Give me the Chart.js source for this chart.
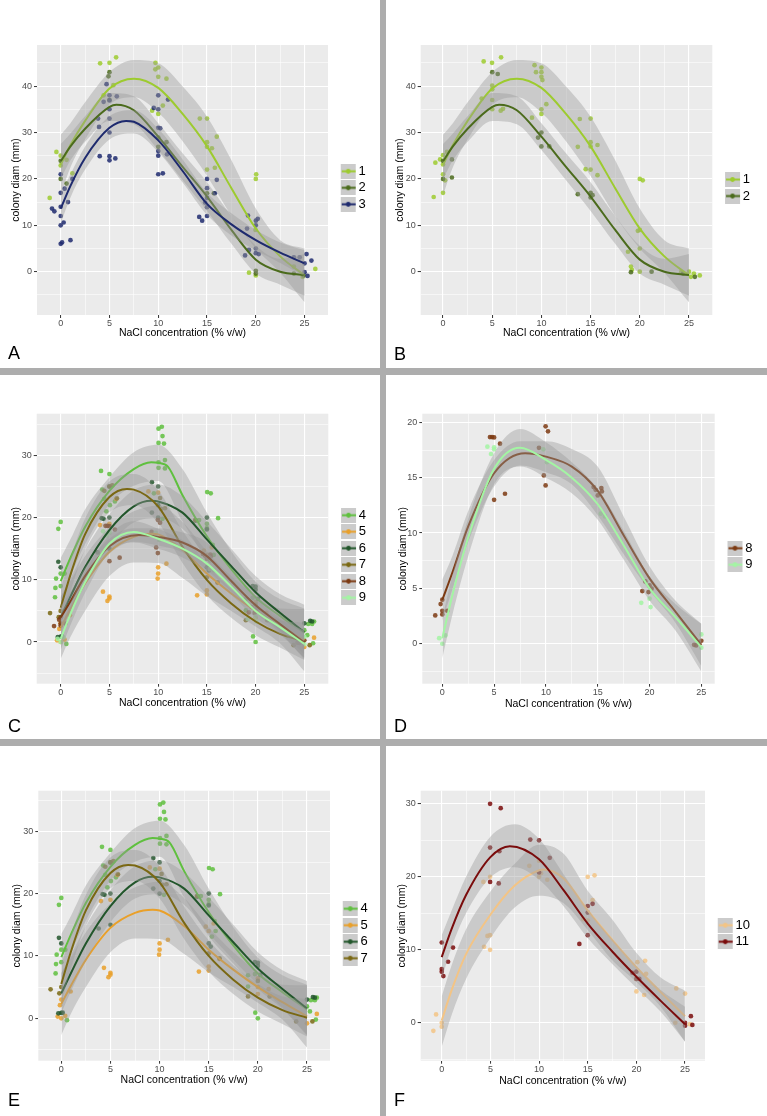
<!DOCTYPE html>
<html><head><meta charset="utf-8">
<script src="https://cdn.jsdelivr.net/npm/chart.js@4.4.1/dist/chart.umd.min.js"></script>
<style>
html,body{margin:0;padding:0;background:#fff;}
body{width:767px;height:1116px;position:relative;overflow:hidden;}
.bar{position:absolute;background:#ADADAD;}
.panel{position:absolute;}
canvas{display:block;}
</style></head><body>
<div class="panel" style="left:0;top:0"><canvas id="cA"></canvas></div>
<div class="panel" style="left:386px;top:0"><canvas id="cB"></canvas></div>
<div class="panel" style="left:0;top:375px"><canvas id="cC"></canvas></div>
<div class="panel" style="left:386px;top:375px"><canvas id="cD"></canvas></div>
<div class="panel" style="left:0;top:746px"><canvas id="cE"></canvas></div>
<div class="panel" style="left:386px;top:746px"><canvas id="cF"></canvas></div>
<div class="bar" style="left:380px;top:0;width:6px;height:1116px"></div>
<div class="bar" style="left:0;top:368px;width:767px;height:7px"></div>
<div class="bar" style="left:0;top:739px;width:767px;height:7px"></div>
<script>
// ---------- tick labels ----------
const xMajor = [0, 5, 10, 15, 20, 25];
const xMinor = [2.5, 7.5, 12.5, 17.5, 22.5];
const yMajorAB = [0, 10, 20, 30, 40];
const yMinorAB = [-5, 5, 15, 25, 35, 45];
const yMajorCEF = [0, 10, 20, 30];
const yMinorCEF = [-5, 5, 15, 25, 35];
const yMajorD = [0, 5, 10, 15, 20];
const yMinorD = [-2.5, 2.5, 7.5, 12.5, 17.5];

// ---------- observations (x, colony diam) ----------
const ptsA1 = [[-1.13,15.9],[-0.44,25.8],[0,25.0],[0,22.9],[0.6,24.1],[1.2,21.2],[4.04,44.9],[5.0,45.0],[5.68,46.2],[5.4,40.2],[4.4,38.0],[9.71,45.0],[10.0,44.0],[9.7,43.6],[10.0,42.0],[10.84,41.6],[9.37,34.7],[10.0,34.0],[10.47,35.8],[14.26,33.0],[15.0,33.0],[16.0,29.1],[15.5,26.6],[15.0,27.9],[15.0,26.9],[15.0,22.0],[15.8,22.4],[20.04,21.0],[20.0,20.0],[19.97,9.0],[19.3,-0.2],[20.0,-0.8],[26.1,0.6],[23.9,1.1],[24.8,-1.1]];
const ptsA2 = [[0,23.9],[0,20.0],[0.6,19.0],[5.0,43.0],[4.9,42.1],[5.0,37.0],[10.0,26.9],[10.0,28.9],[10.84,27.9],[15.0,16.9],[15.7,16.9],[20.0,0.2],[20.0,-0.4],[23.9,-0.4],[24.9,-0.8]];
const ptsA3 = [[-0.89,13.6],[-0.65,13.0],[0,21.0],[0,17.0],[0,14.0],[0,12.0],[0,10.0],[0,6.0],[0.14,6.3],[0.3,10.6],[0.4,17.9],[0.75,15.0],[1.0,6.8],[1.2,20.0],[3.83,33.0],[3.93,31.2],[4.0,24.9],[4.4,36.6],[4.7,40.4],[5.0,24.9],[5.0,24.0],[5.0,38.0],[5.0,36.9],[5.0,35.0],[5.0,33.0],[5.0,30.0],[5.6,24.4],[5.75,37.8],[9.54,35.3],[10.0,38.0],[10.0,35.0],[10.0,31.0],[10.0,26.0],[10.0,25.0],[10.0,21.0],[10.47,21.2],[10.2,30.9],[11.0,37.1],[10.9,25.3],[14.2,11.8],[14.5,11.0],[15.0,20.0],[15.0,18.0],[15.0,15.9],[15.0,13.9],[15.0,12.0],[14.8,14.9],[16.0,19.8],[15.8,16.9],[18.9,3.5],[19.1,9.3],[19.3,4.7],[19.2,12.1],[20.0,11.0],[20.2,11.4],[20.0,10.0],[20.0,5.0],[20.0,4.0],[20.3,3.8],[23.9,3.1],[25.2,3.8],[25.0,1.8],[25.0,-0.1],[25.3,-0.9],[25.7,2.4],[24.5,3.1]];
const ptsB1 = [[-0.95,16.1],[-0.78,23.5],[-0.3,24.2],[0,25.1],[0,23.1],[0,21.0],[0,17.0],[0.2,19.7],[0.4,25.8],[3.93,37.3],[4.13,45.3],[4.98,45.0],[5.0,40.1],[5.0,39.3],[5.0,37.0],[5.0,35.0],[5.9,46.2],[5.86,34.7],[6.1,35.1],[9.04,33.2],[9.3,44.5],[9.45,43.0],[10.0,44.0],[10.0,43.0],[10.0,42.0],[10.1,41.3],[10.0,35.0],[10.0,34.0],[10.5,36.1],[13.9,32.9],[13.7,26.9],[14.5,22.1],[15.0,33.0],[15.0,27.9],[15.0,27.0],[15.0,22.0],[15.7,27.3],[15.7,20.8],[18.8,4.3],[19.1,1.1],[19.2,0.4],[19.8,8.8],[20.0,9.0],[20.0,5.0],[20.0,0],[20.0,20.0],[20.3,19.7],[24.2,-0.1],[25.0,0],[25.2,-1.1],[25.5,-0.4],[26.1,-0.8]];
const ptsB2 = [[0,20.0],[0,23.9],[0.9,20.3],[0.9,24.2],[5.0,43.0],[5.56,42.6],[10.0,30.0],[10.0,27.0],[9.66,28.9],[10.8,27.0],[13.7,16.7],[15.0,17.0],[15.0,16.0],[15.2,16.5],[19.1,-0.1],[21.2,0],[25.6,-1.1],[24.4,-0.4]];
const ptsE4 = [[-0.47,10.2],[-0.54,8.7],[-0.58,7.2],[-0.24,18.2],[0,19.3],[0,11.0],[0,9.0],[0.41,11.0],[0.58,-0.3],[4.14,27.5],[5.0,27.0],[5.05,22.0],[4.68,21.0],[4.48,23.0],[4.27,24.5],[5.56,22.6],[10.04,34.3],[10.38,34.6],[10.45,33.1],[10.04,32.0],[10.6,31.9],[10.04,28.9],[10.04,28.0],[10.7,29.25],[10.7,27.9],[9.57,23.9],[10.45,19.8],[15.03,24.1],[15.4,23.9],[15.0,19.0],[15.0,18.3],[15.33,13.1],[15.6,15.6],[15.7,14.0],[16.15,19.9],[14.2,19.6],[19.0,5.1],[19.0,6.9],[19.74,0.9],[20.0,0],[19.7,7.1],[25.0,1.9],[25.3,1.1],[25.4,2.9],[25.8,2.9],[26.0,3.3],[25.9,-0.2]];
const ptsE5 = [[-0.37,0.27],[-0.14,2.1],[0,3.0],[0,0],[0.4,0.4],[0.95,4.3],[4.04,18.8],[4.34,8.1],[4.8,6.6],[5.0,7.0],[5.0,7.3],[5.0,19.0],[5.7,23.0],[9.0,24.2],[10.0,12.0],[10.0,11.0],[9.95,10.2],[10.0,24.0],[10.85,12.6],[14.0,7.5],[14.7,14.7],[15.0,8.3],[15.0,7.65],[15.0,14.0],[15.5,15.2],[16.1,9.5],[20.0,6.4],[20.0,3.9],[20.0,5.0],[21.1,4.7],[25.0,-0.8],[26.0,0.7]];
const ptsE6 = [[-0.24,12.9],[0,12.0],[0,0.86],[-0.3,0.8],[0.14,0.9],[3.8,14.4],[4.2,19.9],[4.4,19.8],[5.0,20.0],[5.0,15.0],[5.0,25.0],[9.36,25.7],[9.36,20.8],[10.0,25.0],[10.0,20.0],[10.0,22.0],[15.0,20.0],[15.0,12.0],[15.2,11.5],[13.85,19.5],[15.0,18.1],[19.7,9.0],[20.0,8.9],[20.0,8.4],[20.25,6.95],[25.0,3.0],[25.6,3.4],[25.8,3.3]];
const ptsE7 = [[-1.09,4.65],[-0.2,4.0],[0,5.0],[4.48,24.3],[5.0,25.0],[5.3,25.2],[5.77,23.1],[10.2,23.15],[10.3,21.4],[10.7,21.5],[13.8,19.6],[15.0,10.4],[16.1,9.6],[19.0,3.5],[20.0,6.0],[21.2,3.5],[23.9,-0.5],[25.55,-0.5]];
const ptsD8 = [[-0.68,2.56],[-0.16,3.58],[0,3.98],[0,2.98],[0,2.65],[0.48,2.98],[4.6,18.67],[4.8,18.67],[5.0,18.64],[5.57,18.07],[5.0,13.0],[6.05,13.55],[9.33,17.7],[9.8,15.2],[9.97,14.3],[9.97,19.64],[10.2,19.19],[14.6,14.15],[15.0,13.4],[15.35,14.07],[15.4,13.76],[14.8,13.9],[19.3,4.76],[19.6,5.63],[19.9,4.67],[20.0,5.27],[20.2,4.97],[24.3,-0.1],[24.5,-0.15],[25.0,0.27]];
const ptsD9 = [[-0.3,0.5],[0,0],[0.3,0.75],[4.35,17.8],[4.7,17.14],[5.0,17.74],[5.0,17.56],[9.75,17.56],[10.1,16.4],[15.3,11.75],[15.7,11.5],[19.2,3.7],[20.0,4.07],[20.1,3.31],[25.0,0.84],[25.0,-0.36]];
const ptsF10 = [[-0.86,-1.1],[-0.58,1.14],[0,0],[0,-0.55],[4.28,19.3],[4.35,10.4],[4.7,11.9],[4.97,12.0],[4.97,10.0],[4.97,20.0],[9.0,21.5],[10.0,20.0],[10.0,22.2],[10.2,20.5],[10.85,19.6],[15.0,20.0],[15.7,20.2],[14.55,14.2],[15.0,14.0],[15.5,16.8],[20.0,6.0],[20.0,4.3],[20.8,3.8],[20.9,8.5],[21.0,6.7],[20.1,8.3],[24.0,0],[24.1,4.7],[25.0,4.0],[25.5,-0.2]];
const ptsF11 = [[0,11.0],[0,7.35],[0,7.0],[0.17,6.4],[0.65,8.36],[1.16,10.3],[4.97,30.0],[4.97,24.0],[4.97,19.3],[6.06,29.4],[5.92,23.5],[5.86,19.1],[9.1,25.1],[10.0,25.0],[10.0,20.6],[11.1,22.6],[14.14,10.8],[15.0,16.0],[15.0,15.1],[15.0,12.0],[15.5,16.3],[19.6,6.85],[20.0,7.0],[20.0,6.0],[20.3,6.0],[25.0,0],[25.0,-0.4],[25.6,0.9],[25.75,-0.3]];

// ---------- smoothed fits ----------
const fitX1 = [0,1,2.5,5,7.5,10,12.5,15,17.5,20,22.5,25];
const fitY1 = [23.0,27.3,32.5,39.5,41.6,39.6,34.0,27.0,18.0,9.3,3.3,-0.8];
const fitX2 = [0,1,2.5,5,5.7,7.5,10,12.5,15,17.5,20,22.5,25];
const fitY2 = [23.8,27.0,30.8,35.5,36.0,34.8,29.1,22.6,16.2,9.0,2.6,0.0,-0.7];
const fitX3 = [0,1,2.5,5,6.7,7.5,10,12.5,15,17.5,20,22.5,25];
const fitY3 = [13.6,18.5,24.5,31.0,32.5,32.3,28.3,21.7,14.6,10.2,6.8,4.1,1.8];
const fitX4 = [0,1,2.5,5,7.5,9.3,10,11,12.5,15,17.5,20,22.5,25];
const fitY4 = [9.8,13.5,18.5,24.3,27.8,28.9,28.8,28.2,23.6,17.0,11.7,7.2,4.2,1.4];
const fitX5 = [0,1,2.5,5,7.5,9.3,10,12.5,15,17.5,20,22.5,25];
const fitY5 = [2.3,5.3,9.4,14.5,16.9,17.4,17.3,14.8,11.0,7.8,5.0,2.6,0.3];
const fitX6 = [0,1,2.5,5,7.5,9.3,10,12.5,15,17.5,20,22.5,25];
const fitY6 = [4.0,7.3,12.0,18.0,21.8,22.7,22.6,20.8,16.5,12.2,8.0,4.7,1.6];
const fitX7 = [0,1,2.5,5,6.8,7.5,10,12.5,15,17.5,20,22.5,25];
const fitY7 = [5.5,10.8,17.3,23.3,24.6,24.5,21.8,15.3,10.0,6.2,3.3,1.3,0.1];
const fitX8 = [0,1,2.5,5,8,10,12.5,15,17.5,20,22.5,25];
const fitY8 = [3.95,6.5,10.6,15.4,17.2,16.9,16.0,13.8,9.8,5.9,2.9,-0.1];
const fitX9 = [0,1,2.5,5,7.5,10,12.5,15,17.5,20,22.5,25];
const fitY9 = [0.5,4.5,9.6,15.8,17.7,16.6,15.0,12.6,8.9,5.0,2.4,-0.3];
const fitX10 = [0,1,2.5,5,7.5,10,10.5,12.5,15,17.5,20,22.5,25];
const fitY10 = [0.3,4.4,9.4,14.8,18.8,20.9,21.0,19.8,15.4,11.4,7.6,4.2,0.9];
const fitX11 = [0,1,2.5,5,7,10,12.5,15,17.5,20,22.5,25];
const fitY11 = [9.0,12.8,17.5,22.7,24.2,22.4,18.2,13.6,9.8,6.3,3.0,-0.2];

// ---------- confidence bands (upper / lower) ----------
const bandX = [0,1,2.5,5,7.5,10,12.5,15,17.5,20,22.5,25];
const up1 = [29.5,32.0,36.5,43.0,45.6,44.9,39.9,33.4,24.0,13.6,6.8,5.0];
const lo1 = [16.5,22.5,28.5,36.0,37.6,34.3,28.1,20.6,12.0,5.0,-0.2,-6.6];
const up2 = [27.5,29.8,33.5,38.5,37.8,32.0,25.5,19.3,12.0,5.6,2.8,3.8];
const lo2 = [20.0,24.0,28.0,32.5,31.8,26.2,19.7,13.1,6.0,-0.4,-2.8,-5.2];
const up3 = [16.8,21.0,27.0,33.5,34.8,30.8,24.2,17.0,12.6,9.0,6.3,4.6];
const lo3 = [10.4,16.0,22.0,28.5,29.8,25.8,19.2,12.2,7.8,4.6,1.9,-1.0];
const up4 = [13.5,16.5,21.3,26.5,30.5,31.7,27.8,20.8,14.6,9.7,6.9,5.4];
const lo4 = [6.1,10.5,15.7,22.1,25.1,25.9,19.4,13.2,8.8,4.7,1.5,-2.6];
const up5 = [7.3,9.8,13.8,18.4,21.0,21.9,19.3,14.6,10.6,7.5,5.4,5.3];
const lo5 = [-2.7,0.8,5.0,10.6,12.8,12.7,10.3,7.4,5.0,2.5,-0.2,-4.7];
const up6 = [7.2,10.2,14.8,20.6,24.4,25.3,23.4,19.4,15.0,10.6,7.7,6.0];
const lo6 = [0.8,4.4,9.2,15.4,19.2,19.9,18.2,13.6,9.4,5.4,1.7,-2.8];
const up7 = [8.6,13.5,19.8,25.8,27.0,24.4,17.9,12.5,8.5,5.5,3.5,3.1];
const lo7 = [2.4,8.1,14.8,20.8,22.0,19.2,12.7,7.5,3.9,1.1,-0.9,-2.9];
const up8 = [5.8,8.0,12.0,16.6,18.3,18.3,17.6,16.0,11.5,7.0,3.9,1.8];
const lo8 = [2.1,5.0,9.2,14.2,16.1,15.5,14.4,11.6,8.1,4.8,1.9,-2.0];
const up9 = [2.3,6.3,11.3,17.2,19.4,18.2,16.4,14.0,10.2,6.1,3.6,1.8];
const lo9 = [-1.3,2.7,7.9,14.4,16.0,15.0,13.6,11.2,7.6,3.9,1.2,-2.5];
const up10 = [3.6,7.8,12.8,18.0,21.8,24.4,23.2,18.1,14.2,9.6,6.2,4.4];
const lo10 = [-3.3,1.0,6.0,11.6,15.8,17.4,16.4,12.7,8.6,5.6,2.2,-2.6];
const up11 = [12.0,15.3,20.0,25.5,27.2,25.2,20.4,15.6,11.5,7.8,4.5,2.2];
const lo11 = [6.0,10.3,15.0,19.9,21.3,19.6,16.0,11.6,8.1,4.8,1.5,-2.6];

// ---------- styling ----------
const FONT = '"Liberation Sans", Arial, Helvetica, sans-serif';
const BAND = 'rgba(153,153,153,0.4)';
const col = {1:'#9DCB2F',2:'#4B6B1C',3:'#1E2A6E',4:'#5FC03E',5:'#E9A02A',6:'#22562B',7:'#7A6813',8:'#7C3A12',9:'#A3F5A3',10:'#F3C485',11:'#7A0C0C'};
Chart.defaults.font.family = FONT;

function rgba(hex, a) {
  const n = parseInt(hex.slice(1), 16);
  return `rgba(${(n>>16)&255},${(n>>8)&255},${n&255},${a})`;
}
function keyImage(color) {
  const c = document.createElement('canvas');
  c.width = 40; c.height = 15;
  const g = c.getContext('2d');
  g.fillStyle = '#CBCBCB';
  g.fillRect(19, 0, 15, 15);
  g.strokeStyle = color; g.lineWidth = 2;
  g.beginPath(); g.moveTo(20, 7.5); g.lineTo(34, 7.5); g.stroke();
  g.fillStyle = color;
  g.beginPath(); g.arc(26.5, 7.5, 2.4, 0, Math.PI * 2); g.fill();
  return c;
}
const measureCtx = document.createElement('canvas').getContext('2d');

const bgPlugin = {
  id: 'panelBg',
  beforeDraw(chart) {
    const a = chart.chartArea, ctx = chart.ctx;
    ctx.save();
    ctx.fillStyle = '#EBEBEB';
    ctx.fillRect(a.left, a.top, a.right - a.left, a.bottom - a.top);
    ctx.restore();
  }
};

function S(name, pts, fx, fy, up, lo) {
  return {name, color: col[name], pts, fx, fy, up, lo};
}

function makePanel(id, g, list) {
  const canvas = document.getElementById(id);
  canvas.width = g.W; canvas.height = g.H;
  canvas.style.width = g.W + 'px'; canvas.style.height = g.H + 'px';
  const n = list.length;
  const datasets = [];
  list.forEach((s, k) => datasets.push({
    type: 'scatter', label: s.name + ' obs',
    data: s.pts.map(p => ({x: p[0], y: p[1]})),
    pointRadius: 2.35, pointHoverRadius: 2.35, pointBorderWidth: 0,
    pointBackgroundColor: rgba(s.color, 0.85), backgroundColor: rgba(s.color, 0.85),
    showLine: false, order: 200 - k
  }));
  list.forEach((s, k) => {
    const base = 90 - 3 * k;
    datasets.push({type: 'line', label: s.name + ' upper', data: bandX.map((x, i) => ({x, y: s.up[i]})),
      borderWidth: 0, borderColor: 'rgba(0,0,0,0)', pointRadius: 0, fill: false,
      cubicInterpolationMode: 'monotone', order: base});
    datasets.push({type: 'line', label: s.name + ' lower', data: bandX.map((x, i) => ({x, y: s.lo[i]})),
      borderWidth: 0, borderColor: 'rgba(0,0,0,0)', pointRadius: 0, fill: '-1', backgroundColor: BAND,
      cubicInterpolationMode: 'monotone', order: base - 1});
    datasets.push({type: 'line', label: s.name, data: s.fx.map((x, i) => ({x, y: s.fy[i]})),
      borderColor: s.color, borderWidth: 2, pointRadius: 0, fill: false,
      cubicInterpolationMode: 'monotone', order: base - 2});
  });

  // geometry
  const padL = 8;
  const xh = g.xTitleY + 6.3 - g.B;
  const letterLH = 18 * 1.2;
  const tp = g.letterY - g.B - xh - letterLH / 2;
  const pb = g.H - (g.B + xh + tp + letterLH);
  measureCtx.font = '13px ' + FONT;
  const tw = Math.max(...list.map(s => measureCtx.measureText(s.name).width));
  const Lw = 3.5 + 20.5 + 6.5 + tw + 10;
  const pr = g.W - g.R - Lw;
  const yTitlePad = Math.max(0, g.yTitleX - padL - 6.3);

  const xTicks = xMajor.concat(xMinor).filter(v => v >= g.xmin && v <= g.xmax).sort((a, b) => a - b);
  const yTicks = g.yMajor.concat(g.yMinor).filter(v => v >= g.ymin && v <= g.ymax).sort((a, b) => a - b);
  const isMajX = v => xMajor.includes(v);
  const isMajY = v => g.yMajor.includes(v);

  new Chart(canvas, {
    type: 'scatter',
    data: {datasets},
    plugins: [bgPlugin],
    options: {
      responsive: false, animation: false, events: [],
      layout: {padding: {left: padL, top: g.T, right: pr, bottom: pb}},
      scales: {
        x: {
          type: 'linear', min: g.xmin, max: g.xmax,
          afterFit: s => { s.height = xh; },
          afterBuildTicks: s => { s.ticks = xTicks.map(v => ({value: v})); },
          ticks: {autoSkip: false, maxRotation: 0, minRotation: 0, padding: 0, color: '#4D4D4D',
            font: {family: FONT, size: 9}, callback: v => isMajX(v) ? String(v) : ''},
          grid: {color: '#FFFFFF', lineWidth: c => isMajX(c.tick.value) ? 1.1 : 0.55,
            tickLength: 3, tickWidth: 1, drawTicks: true,
            tickColor: c => isMajX(c.tick.value) ? '#333333' : 'rgba(0,0,0,0)'},
          border: {display: false},
          title: {display: true, text: 'NaCl concentration (% v/w)', color: '#000000',
            font: {family: FONT, size: 10.5, lineHeight: 1.2}, padding: {top: 0, bottom: 0}}
        },
        y: {
          type: 'linear', min: g.ymin, max: g.ymax,
          afterFit: s => { s.width = g.L - padL; },
          afterBuildTicks: s => { s.ticks = yTicks.map(v => ({value: v})); },
          ticks: {autoSkip: false, padding: 2, color: '#4D4D4D', font: {family: FONT, size: 9},
            callback: v => isMajY(v) ? String(v) : ''},
          grid: {color: '#FFFFFF', lineWidth: c => isMajY(c.tick.value) ? 1.1 : 0.55,
            tickLength: 3, tickWidth: 1, drawTicks: true,
            tickColor: c => isMajY(c.tick.value) ? '#333333' : 'rgba(0,0,0,0)'},
          border: {display: false},
          title: {display: true, text: 'colony diam (mm)', color: '#000000',
            font: {family: FONT, size: 10.5, lineHeight: 1.2}, padding: {top: yTitlePad, bottom: 0}}
        }
      },
      plugins: {
        tooltip: {enabled: false},
        title: {display: true, text: g.letter, position: 'bottom', align: 'start', color: '#000000',
          font: {family: FONT, size: 18, weight: 'normal', lineHeight: 1.2},
          padding: {top: tp, bottom: 0}, fullSize: true},
        legend: {
          display: true, position: 'right', align: 'center', fullSize: false,
          title: {display: true, text: ' ', font: {family: FONT, size: 13, lineHeight: 1.2}, padding: 0},
          labels: {
            usePointStyle: true, pointStyleWidth: 20.5, boxHeight: 13, padding: 3.5,
            color: '#000000', font: {family: FONT, size: 13},
            generateLabels: () => list.map((s, i) => ({
              text: s.name, pointStyle: keyImage(s.color), fillStyle: s.color,
              strokeStyle: s.color, lineWidth: 0, hidden: false, fontColor: '#000000', datasetIndex: i
            }))
          }
        }
      }
    }
  });
}

makePanel('cA', {W:380, H:368, L:37, T:45, R:328, B:315, xmin:-2.43, xmax:27.4, ymin:-9.33, ymax:48.85,
  yMajor: yMajorAB, yMinor: yMinorAB, letter: 'A', letterY: 354.3, xTitleY: 333.3, yTitleX: 16},
  [S('1', ptsA1, fitX1, fitY1, up1, lo1), S('2', ptsA2, fitX2, fitY2, up2, lo2), S('3', ptsA3, fitX3, fitY3, up3, lo3)]);
makePanel('cB', {W:381, H:368, L:34.7, T:45, R:326.3, B:315, xmin:-2.27, xmax:27.37, ymin:-9.33, ymax:48.85,
  yMajor: yMajorAB, yMinor: yMinorAB, letter: 'B', letterY: 354.7, xTitleY: 333.3, yTitleX: 14},
  [S('1', ptsB1, fitX1, fitY1, up1, lo1), S('2', ptsB2, fitX2, fitY2, up2, lo2)]);
makePanel('cC', {W:380, H:364, L:36.7, T:38.7, R:328.3, B:308.7, xmin:-2.46, xmax:27.46, ymin:-6.7, ymax:36.7,
  yMajor: yMajorCEF, yMinor: yMinorCEF, letter: 'C', letterY: 351.7, xTitleY: 328, yTitleX: 16},
  [S('4', ptsE4, fitX4, fitY4, up4, lo4), S('5', ptsE5, fitX5, fitY5, up5, lo5), S('6', ptsE6, fitX6, fitY6, up6, lo6),
   S('7', ptsE7, fitX7, fitY7, up7, lo7), S('8', ptsD8, fitX8, fitY8, up8, lo8), S('9', ptsD9, fitX9, fitY9, up9, lo9)]);
makePanel('cD', {W:381, H:364, L:36.3, T:38.7, R:328.7, B:308.7, xmin:-1.93, xmax:26.29, ymin:-3.61, ymax:20.78,
  yMajor: yMajorD, yMinor: yMinorD, letter: 'D', letterY: 351.7, xTitleY: 328.7, yTitleX: 17.3},
  [S('8', ptsD8, fitX8, fitY8, up8, lo8), S('9', ptsD9, fitX9, fitY9, up9, lo9)]);
makePanel('cE', {W:380, H:370, L:38.3, T:44.7, R:330, B:314.7, xmin:-2.34, xmax:27.34, ymin:-6.8, ymax:36.5,
  yMajor: yMajorCEF, yMinor: yMinorCEF, letter: 'E', letterY: 355.5, xTitleY: 333.7, yTitleX: 17.3},
  [S('4', ptsE4, fitX4, fitY4, up4, lo4), S('5', ptsE5, fitX5, fitY5, up5, lo5), S('6', ptsE6, fitX6, fitY6, up6, lo6),
   S('7', ptsE7, fitX7, fitY7, up7, lo7)]);
makePanel('cF', {W:381, H:370, L:34.7, T:44.7, R:319, B:314.7, xmin:-2.16, xmax:27.05, ymin:-5.2, ymax:31.8,
  yMajor: yMajorCEF, yMinor: yMinorCEF, letter: 'F', letterY: 354.7, xTitleY: 334.7, yTitleX: 16},
  [S('10', ptsF10, fitX10, fitY10, up10, lo10), S('11', ptsF11, fitX11, fitY11, up11, lo11)]);
</script>
</body></html>
